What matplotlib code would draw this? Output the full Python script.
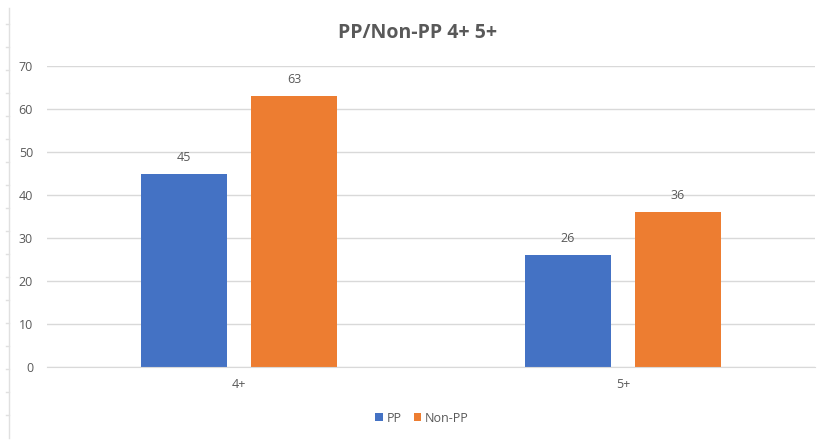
import matplotlib
matplotlib.use("Agg")
import matplotlib.pyplot as plt
import numpy as np
from matplotlib.lines import Line2D

categories = ["4+", "5+"]
series_names = ["PP", "Non-PP"]
pp_values = [45, 26]
nonpp_values = [63, 36]
y_ticks = [0, 10, 20, 30, 40, 50, 60, 70]

blue = "#4472C4"
orange = "#ED7D31"
gray = "#595959"
grid = "#D9D9D9"

plt.rcParams['font.family'] = ['Open Sans', 'DejaVu Sans']

fig = plt.figure(figsize=(8.27, 4.41), dpi=100)
ax = fig.add_axes([47/827, 1-367/441, (815-47)/827, (367-66)/441])

x = np.arange(len(categories))
w = 0.224
off = 0.143
b1 = ax.bar(x - off, pp_values, w, color=blue, label=series_names[0], zorder=3)
b2 = ax.bar(x + off, nonpp_values, w, color=orange, label=series_names[1], zorder=3)
for bars, vals in ((b1, pp_values), (b2, nonpp_values)):
    for r, v in zip(bars, vals):
        ax.annotate(str(v), (r.get_x() + r.get_width()/2, v), xytext=(0, 7),
                    textcoords="offset points", ha="center", va="bottom",
                    fontsize=9, color=gray)

ax.set_xlim(-0.5, len(categories) - 0.5)
ax.set_ylim(0, 70)
ax.set_yticks(y_ticks)
ax.set_xticks(x)
ax.set_xticklabels(categories)
ax.tick_params(axis='both', length=0, labelsize=9, colors=gray)
ax.tick_params(axis='y', pad=10)
ax.tick_params(axis='x', pad=8)
ax.yaxis.grid(True, color=grid, linewidth=1, zorder=0)
for s in ['top', 'right', 'left']:
    ax.spines[s].set_visible(False)
ax.spines['bottom'].set_color(grid)
ax.spines['bottom'].set_zorder(4)

fig.text(418/827, 1-33/441, "PP/Non-PP 4+ 5+", ha="center", va="center",
         fontsize=14, fontweight="bold", color=gray)

leg = fig.legend(handles=[b1, b2], labels=series_names, loc="center",
                 bbox_to_anchor=(422/827, 1-418/441), ncol=2, frameon=False,
                 fontsize=9, handlelength=0.6, handleheight=0.6,
                 handletextpad=0.3, columnspacing=1.0, labelcolor=gray)

# left edge decoration line with small ticks
fig.add_artist(Line2D([9/827, 9/827], [1-8/441, 1-438/441], color="#E0E0E0", lw=1))
for yy in range(24, 438, 23):
    fig.add_artist(Line2D([6/827, 9/827], [1-yy/441, 1-yy/441], color="#E0E0E0", lw=1))

fig.savefig("out.png", dpi=100)
